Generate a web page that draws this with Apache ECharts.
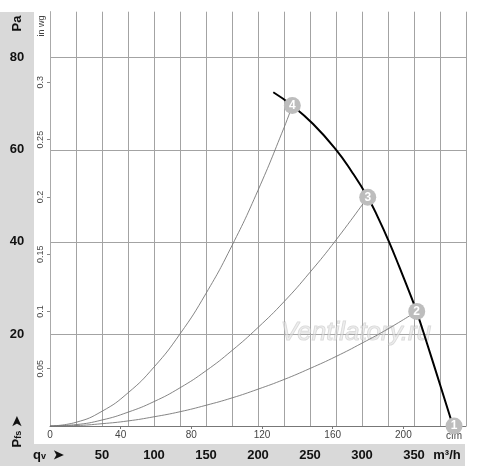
<!DOCTYPE html>
<html><head><meta charset="utf-8">
<script src="https://cdn.jsdelivr.net/npm/echarts@6/dist/echarts.min.js"></script>
<style>html,body{margin:0;padding:0;background:#fff}#c{width:500px;height:466px}</style>
</head><body><div id="c"></div>
<script>
// Tick labels
const flowLabels = [50, 100, 150, 200, 250, 300, 350];        // m³/h
const cfmLabels = [0, 40, 80, 120, 160, 200];                  // cfm
const cfmTicks = [40, 80, 120, 160, 200];
const paLabels = [20, 40, 60, 80];                              // Pa
const wgLabels = [0.05, 0.1, 0.15, 0.2, 0.25, 0.3];             // in wg

// Fan curve [m³/h, Pa]
const fanCurve = [[214.7,72.5],[233,69.6],[253,65.6],[274,60.3],[290,55.3],[305.5,49.7],[316,45.0],[326,40.0],[336,34.5],[346,28.8],[352.6,24.8],[362,18.3],[375,9.0],[387.5,0]];
// System resistance curves [m³/h, Pa]
const sys4 = [[0,0],[25,0.8],[50,3.2],[75,7.2],[100,12.8],[125,20],[150,28.8],[175,39.2],[200,51.2],[225,64.8],[233,69.6]];
const sys3 = [[0,0],[25,0.3],[50,1.3],[75,3.0],[100,5.3],[125,8.3],[150,12],[175,16.4],[200,21.4],[225,27],[250,33.4],[275,40.4],[305.5,49.7]];
const sys2 = [[0,0],[25,0.1],[50,0.5],[75,1.1],[100,2],[125,3.1],[150,4.5],[175,6.1],[200,8],[225,10.1],[250,12.5],[275,15.1],[300,18],[325,21.1],[352.6,24.9]];
// Operating points
const opPoints = [[388.5,0,'1'],[352.6,24.9,'2'],[305.5,49.7,'3'],[233,69.6,'4']];

const chart = echarts.init(document.getElementById('c'), null, {renderer:'canvas'});
const FONT = 'Liberation Sans, Arial, sans-serif';
const PA_MAX = 90, Q_MAX = 400;
const gridCol = '#a3a3a3';

chart.setOption({
  backgroundColor: '#fff',
  animation: false,
  grid: {left: 50, right: 34, top: 11.7, bottom: 40, containLabel: false},
  graphic: [
    {type:'rect', z:-10, silent:true, shape:{x:0,y:12,width:34,height:454}, style:{fill:'#d9d9d9'}},
    {type:'rect', z:-10, silent:true, shape:{x:0,y:444,width:465,height:22}, style:{fill:'#d9d9d9'}},
    {type:'text', x:17, y:23.5, rotation:Math.PI/2, style:{text:'Pa', font:'bold 13px '+FONT, fill:'#111', align:'center', verticalAlign:'middle'}},
    {type:'text', x:17, y:432, rotation:Math.PI/2, style:{text:'{p|P}{s|fs} {p|➤}', align:'center', verticalAlign:'middle',
      rich:{p:{font:'bold 13px '+FONT, fill:'#111'}, s:{font:'bold 9px '+FONT, fill:'#111', verticalAlign:'bottom', padding:[4,0,0,0]}}}},
    {type:'text', x:33, y:455, style:{text:'{p|q}{s|v}{p|  ➤}', align:'left', verticalAlign:'middle',
      rich:{p:{font:'bold 13px '+FONT, fill:'#111'}, s:{font:'bold 9px '+FONT, fill:'#111', padding:[4,0,0,0]}}}},
    {type:'text', x:447, y:455, style:{text:'m³/h', font:'bold 13px '+FONT, fill:'#111', align:'center', verticalAlign:'middle'}},
    {type:'text', x:42, y:26, rotation:Math.PI/2, style:{text:'in wg', font:'9px '+FONT, fill:'#444', align:'center', verticalAlign:'middle'}},
    {type:'text', x:454, y:436, style:{text:'cfm', font:'10px '+FONT, fill:'#444', align:'center', verticalAlign:'middle'}},
    {type:'text', x:356, y:333, z:1, style:{text:'Ventilatory.ru', font:'italic 26px '+FONT, fill:'rgba(225,225,225,0.55)', stroke:'rgba(170,170,170,0.45)', lineWidth:1, align:'center', verticalAlign:'middle'}}
  ],
  xAxis: [
    {type:'value', min:0, max:Q_MAX, interval:25, position:'bottom',
     axisLine:{show:true, onZero:false, lineStyle:{color:'#777', width:1}},
     axisTick:{show:false},
     splitLine:{show:true, lineStyle:{color:gridCol, width:1}},
     axisLabel:{customValues:flowLabels, margin:23, fontWeight:'bold', fontSize:13, fontFamily:FONT, color:'#111'}},
    {type:'value', min:0, max:Q_MAX/1.699, position:'bottom',
     axisLine:{show:false}, splitLine:{show:false},
     axisTick:{show:true, customValues:cfmTicks, length:3, lineStyle:{color:'#777'}},
     axisLabel:{customValues:cfmLabels, margin:4, fontSize:10, fontFamily:FONT, color:'#444'}}
  ],
  yAxis: [
    {type:'value', min:0, max:PA_MAX, interval:20, position:'left',
     axisLine:{show:true, lineStyle:{color:'#aaa'}},
     axisTick:{show:false},
     splitLine:{show:true, showMaxLine:false, lineStyle:{color:gridCol, width:1}},
     axisLabel:{customValues:paLabels, margin:33, align:'center', fontSize:13, fontWeight:'bold', fontFamily:FONT, color:'#111'}},
    {type:'value', min:0, max:PA_MAX/248.84, position:'left',
     axisLine:{show:false}, splitLine:{show:false},
     axisTick:{show:true, customValues:wgLabels, length:3, lineStyle:{color:'#888'}},
     axisLabel:{customValues:wgLabels, rotate:90, margin:5, fontSize:9, fontFamily:FONT, color:'#444'}}
  ],
  series: [
    {type:'line', data:sys4, smooth:true, symbol:'none', lineStyle:{color:'#777', width:0.9}, z:2},
    {type:'line', data:sys3, smooth:true, symbol:'none', lineStyle:{color:'#777', width:0.9}, z:2},
    {type:'line', data:sys2, smooth:true, symbol:'none', lineStyle:{color:'#777', width:0.9}, z:2},
    {type:'line', data:fanCurve, smooth:true, symbol:'none', lineStyle:{color:'#000', width:2}, z:3},
    {type:'scatter', data:opPoints, symbol:'circle', symbolSize:17, z:4,
     itemStyle:{color:'#bdbdbd', opacity:1},
     label:{show:true, position:'inside', formatter:p=>p.value[2], color:'#fff', fontSize:12, fontWeight:'bold', fontFamily:FONT}}
  ]
});
</script></body></html>
